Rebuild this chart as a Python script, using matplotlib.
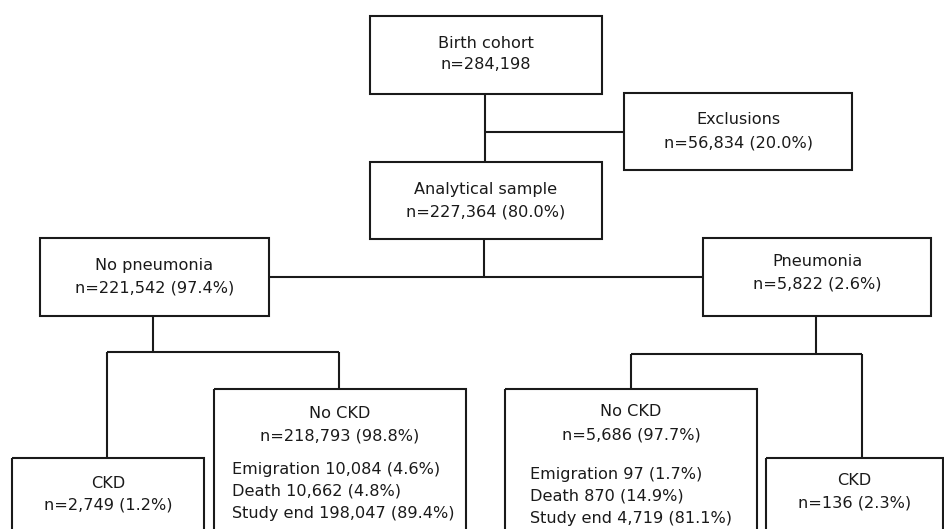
import matplotlib
matplotlib.use("Agg")
import matplotlib.pyplot as plt
from matplotlib.patches import Rectangle

# ---- data (flowchart content) ----
node_titles = ["Birth cohort", "Exclusions", "Analytical sample", "No pneumonia",
               "Pneumonia", "CKD", "No CKD", "No CKD", "CKD"]
node_counts = ["n=284,198", "n=56,834 (20.0%)", "n=227,364 (80.0%)", "n=221,542 (97.4%)",
               "n=5,822 (2.6%)", "n=2,749 (1.2%)", "n=218,793 (98.8%)", "n=5,686 (97.7%)",
               "n=136 (2.3%)"]
left_nockd_details = ["Emigration 10,084 (4.6%)", "Death 10,662 (4.8%)", "Study end 198,047 (89.4%)"]
right_nockd_details = ["Emigration 97 (1.7%)", "Death 870 (14.9%)", "Study end 4,719 (81.1%)"]

# ---- layout (pixels: x0, x1, y0, y1) ----
boxes = [
    (370, 602, 16, 93.5),
    (624, 852, 93, 170),
    (370, 602, 162, 239),
    (40, 269, 237.5, 315.5),
    (703, 931, 237.5, 315.5),
    (12, 204, 458, 545),
    (214, 466, 389, 545),
    (505, 757, 389, 545),
    (766, 943, 458, 545),
]
title_y = [41.7, 118, 188, 264, 260, 482, 412, 410, 479]
count_y = [63, 141.5, 210.5, 286.5, 283, 504, 435, 434, 502]
detail_left = (232, [468, 490, 512])
detail_right = (530, [473, 495, 517])

connectors = [
    ((485, 485), (93.5, 162)),
    ((485, 624), (131.5, 131.5)),
    ((484, 484), (239, 276.5)),
    ((269, 703), (276.5, 276.5)),
    ((153, 153), (315.5, 352)),
    ((107, 339), (352, 352)),
    ((107, 107), (352, 458)),
    ((339, 339), (352, 389)),
    ((816, 816), (315.5, 354)),
    ((631, 862), (354, 354)),
    ((631, 631), (354, 389)),
    ((862, 862), (354, 458)),
]

W, H = 945, 529
fig = plt.figure(figsize=(W / 100, H / 100), dpi=100)
ax = fig.add_axes([0, 0, 1, 1])
ax.set_xlim(0, W)
ax.set_ylim(H, 0)
ax.axis("off")

LC = "#1a1a1a"
TC = "#1a1a1a"
LW = 1.5
FS = 11.6
FAM = "DejaVu Sans"
OFF = 0.36 * FS * 100 / 72  # cap-middle to baseline offset in px

for (x0, x1, y0, y1) in boxes:
    ax.add_patch(Rectangle((x0, y0), x1 - x0, y1 - y0, fill=False,
                           edgecolor=LC, linewidth=LW, joinstyle="miter", zorder=2))

for xs, ys in connectors:
    ax.plot(xs, ys, color=LC, linewidth=LW, solid_capstyle="butt", zorder=1)

for i, (x0, x1, y0, y1) in enumerate(boxes):
    cx = (x0 + x1) / 2
    ax.text(cx, title_y[i] + OFF, node_titles[i], ha="center", va="baseline",
            fontsize=FS, family=FAM, color=TC)
    ax.text(cx, count_y[i] + OFF, node_counts[i], ha="center", va="baseline",
            fontsize=FS, family=FAM, color=TC)

for (xl, ys), lines in ((detail_left, left_nockd_details), (detail_right, right_nockd_details)):
    for y, s in zip(ys, lines):
        ax.text(xl, y + OFF, s, ha="left", va="baseline", fontsize=FS, family=FAM, color=TC)

fig.savefig("out.png", dpi=100, facecolor="white")
